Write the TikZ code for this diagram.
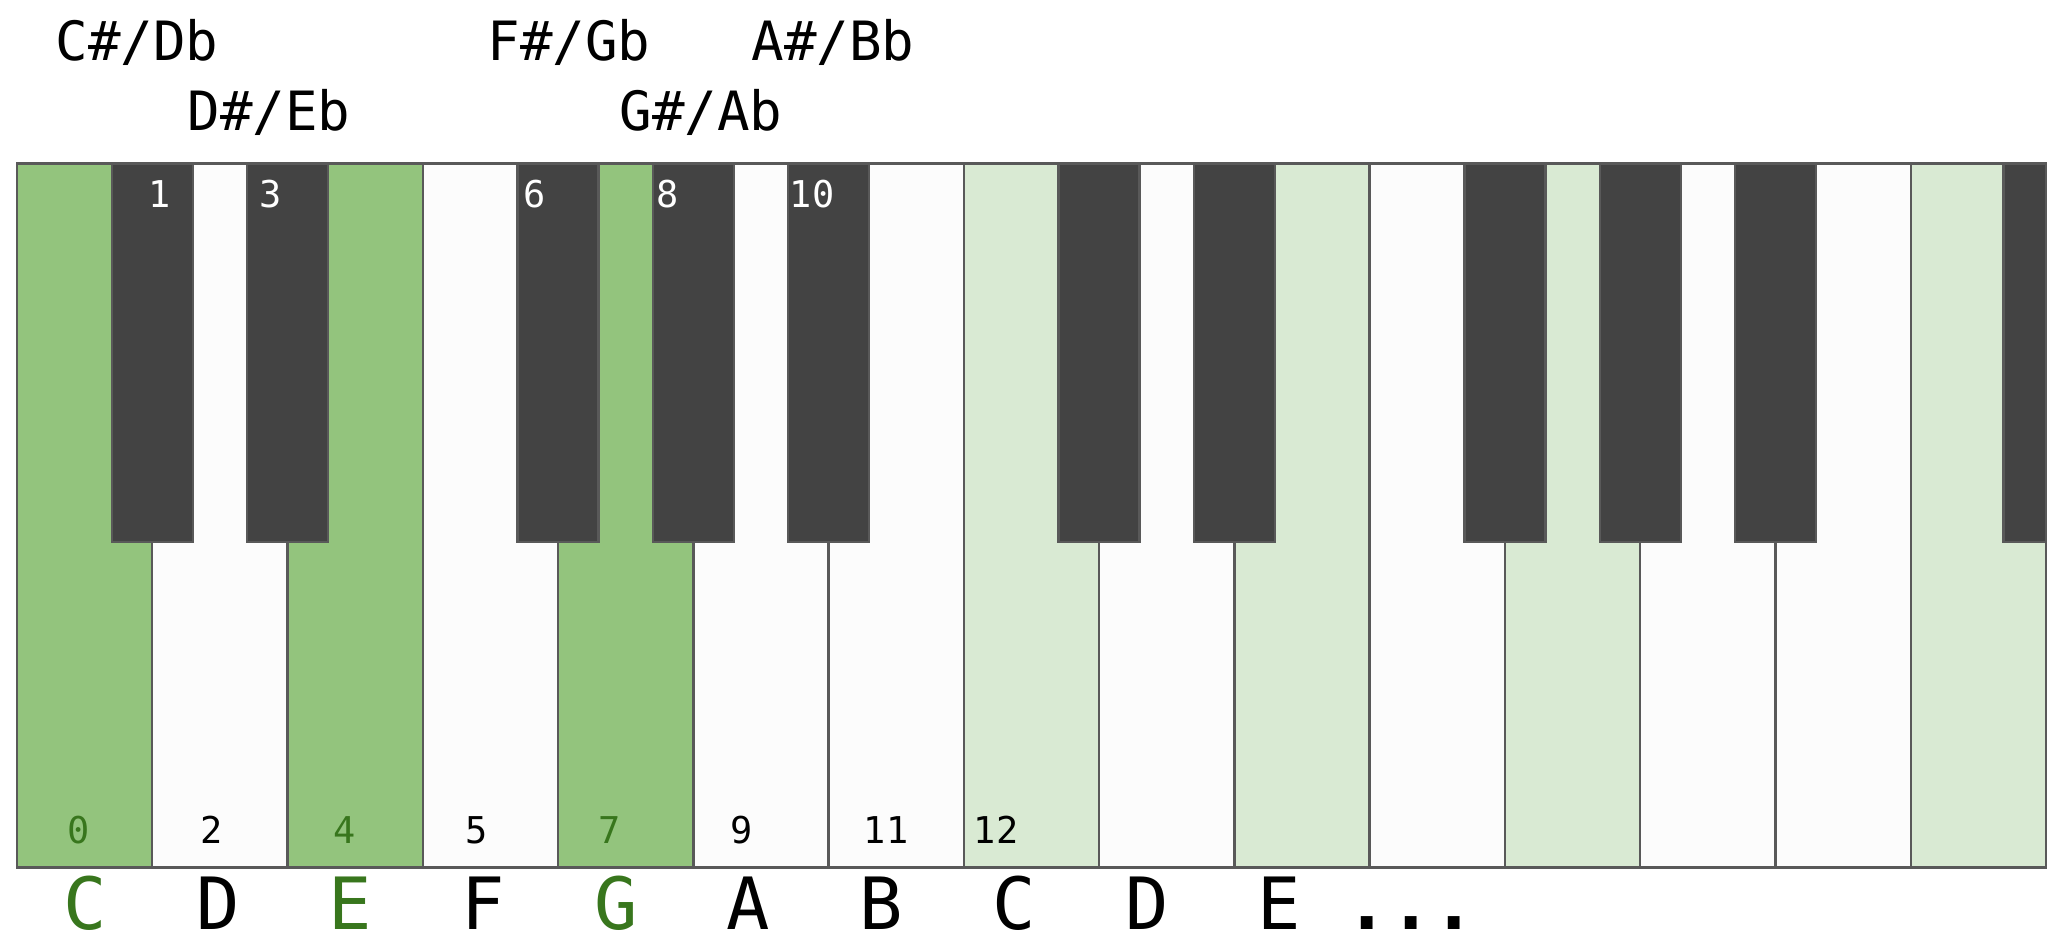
\documentclass[tikz,border=0pt]{standalone}
\usepackage{fontspec}
\newfontfamily\keyfont{DejaVu Sans Mono}
\definecolor{keyedge}{HTML}{595959}
\definecolor{whitefill}{HTML}{FCFCFC}
\definecolor{blackfill}{HTML}{434343}
\definecolor{strongg}{HTML}{93C47D}
\definecolor{lightg}{HTML}{D9EAD3}
\definecolor{textg}{HTML}{38761D}
\tikzset{
  whitekey/.style={rectangle, draw=keyedge, line width=0.7pt, fill=whitefill, inner sep=0pt,
    minimum width=1.3527cm, minimum height=7.04cm},
  blackkey/.style={rectangle, draw=keyedge, line width=0.7pt, fill=blackfill, inner sep=0pt,
    minimum width=0.81cm, minimum height=3.785cm},
  toplabel/.style={anchor=base, inner sep=0pt, font=\keyfont\fontsize{15.4}{18}\selectfont},
  numlabel/.style={anchor=base, inner sep=0pt, font=\keyfont\fontsize{10.5}{12}\selectfont},
  notelabel/.style={anchor=base, inner sep=0pt, font=\keyfont\fontsize{20.5}{24}\selectfont}
}
\begin{document}
\begin{tikzpicture}[x=0.01cm, y=-0.01cm]
\useasboundingbox (0,0) rectangle (2067,948);
% white keys
\foreach \i/\col in {0/strongg,1/whitefill,2/strongg,3/whitefill,4/strongg,5/whitefill,6/whitefill,
  7/lightg,8/whitefill,9/lightg,10/whitefill,11/lightg,12/whitefill,13/whitefill,14/lightg}{
  \pgfmathsetmacro{\cx}{17+135.27*(\i+0.5)}
  \node[whitekey, fill=\col] (w\i) at (\cx,515.5) {};
}
% black keys
\foreach \k in {1,2,4,5,6,8,9,11,12,13}{
  \pgfmathsetmacro{\cx}{17+135.27*\k}
  \node[blackkey] (b\k) at (\cx,352.75) {};
}
\node[blackkey, minimum width=0.4265cm] (b15) at (2024.7,352.75) {};
% top labels
\node[toplabel] (lcs) at (137,60) {C\#/Db};
\node[toplabel] (lds) at (269,130) {D\#/Eb};
\node[toplabel] (lfs) at (569,60) {F\#/Gb};
\node[toplabel] (lgs) at (701,130) {G\#/Ab};
\node[toplabel] (las) at (833,60) {A\#/Bb};
% black key numbers
\node[numlabel, text=white] (n1) at (160,207) {1};
\node[numlabel, text=white] (n3) at (271,207) {3};
\node[numlabel, text=white] (n6) at (535,207) {6};
\node[numlabel, text=white] (n8) at (668,207) {8};
\node[numlabel, text=white] (n10) at (812,207) {10};
% white key numbers
\node[numlabel, text=textg] (n0) at (79,843) {0};
\node[numlabel] (n2) at (212,843) {2};
\node[numlabel, text=textg] (n4) at (345,843) {4};
\node[numlabel] (n5) at (477,843) {5};
\node[numlabel, text=textg] (n7) at (610,843) {7};
\node[numlabel] (n9) at (742,843) {9};
\node[numlabel] (n11) at (886,843) {11};
\node[numlabel] (n12) at (996,843) {12};
% note names
\node[notelabel, text=textg] (c1) at (85,929) {C};
\node[notelabel] (d1) at (218,929) {D};
\node[notelabel, text=textg] (e1) at (350,929) {E};
\node[notelabel] (f1) at (483,929) {F};
\node[notelabel, text=textg] (g1) at (616,929) {G};
\node[notelabel] (a1) at (748,929) {A};
\node[notelabel] (bb1) at (881,929) {B};
\node[notelabel] (c2) at (1014,929) {C};
\node[notelabel] (d2) at (1147,929) {D};
\node[notelabel] (e2) at (1279,929) {E};
\node[notelabel, font=\keyfont\bfseries\fontsize{20.5}{24}\selectfont] (dots) at (1411,929) {...};
\end{tikzpicture}
\end{document}
